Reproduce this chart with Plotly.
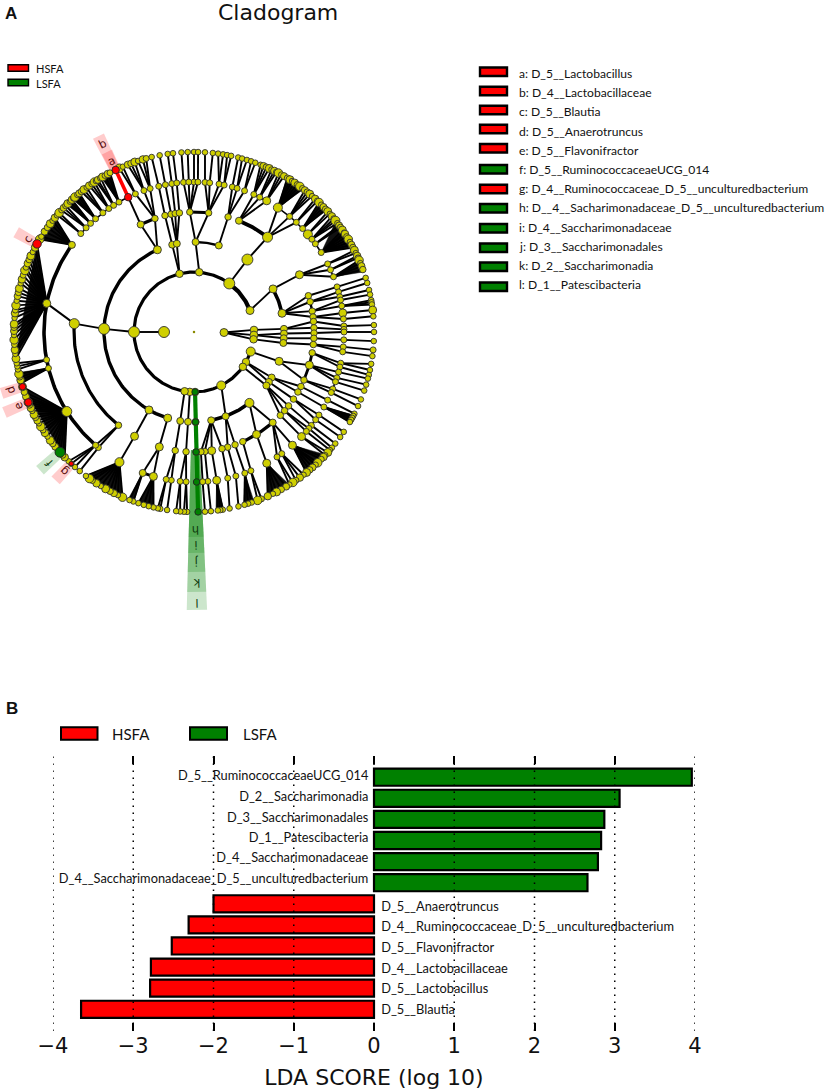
import numpy as np
import plotly.graph_objects as go

# ---------------- B panel data ----------------
bar_names = ["D_5__RuminococcaceaeUCG_014", "D_2__Saccharimonadia", "D_3__Saccharimonadales",
             "D_1__Patescibacteria", "D_4__Saccharimonadaceae", "D_4__Saccharimonadaceae_D_5__unculturedbacterium",
             "D_5__Anaerotruncus", "D_4__Ruminococcaceae_D_5__unculturedbacterium", "D_5__Flavonifractor",
             "D_4__Lactobacillaceae", "D_5__Lactobacillus", "D_5__Blautia"]
bar_scores = [3.96, 3.06, 2.87, 2.83, 2.79, 2.66, -2.0, -2.31, -2.52, -2.78, -2.79, -3.65]
bar_rows = list(range(12))
label_rows = [0, 0.97, 1.95, 2.92, 3.89, 4.87, 6.18, 7.16, 8.14, 9.11, 10.09, 11.07]
x_ticks = [-4, -3, -2, -1, 0, 1, 2, 3, 4]
x_tick_text = ["\u22124", "\u22123", "\u22122", "\u22121", "0", "1", "2", "3", "4"]

# ---------------- A panel key ----------------
key_text = ["a: D_5__Lactobacillus", "b: D_4__Lactobacillaceae", "c: D_5__Blautia", "d: D_5__Anaerotruncus",
            "e: D_5__Flavonifractor", "f: D_5__RuminococcaceaeUCG_014",
            "g: D_4__Ruminococcaceae_D_5__unculturedbacterium",
            "h: D__4__Sacharimonadaceae_D_5__unculturedbacterium", "i: D_4__Saccharimonadaceae",
            "j: D_3__Saccharimonadales", "k: D_2__Saccharimonadia", "l: D_1__Patescibacteria"]
key_group = ["H", "H", "H", "H", "H", "L", "H", "L", "L", "L", "L", "L"]

# ---------------- cladogram: angle in degrees clockwise from top, ring level 1..6 ----------------
parent_1 = [270, 91]
child_2 = [[346, 5, 36, 69, 270, 189, 184, 179, 153, 125.5, 120, 109], [88, 93, 97]]

parent_2 = [346, 5, 36, 69, 270, 189, 184, 179, 153, 125.5, 120, 109, 88, 93, 97]
child_3 = [[346, 349], [1, 16], [36.4], [61.4, 78], [336, 272, 210, 197], [188.8], [183.8], [179],
           [142, 159.4, 169], [126.5], [120.4, 123.7], [109], [88], [91, 94], [97]]

parent_3 = [346, 349, 1, 16, 36.4, 61.4, 78, 336, 272, 210, 197, 188.8, 183.8, 179, 142, 159.4, 169,
            126.5, 123.7, 120.4, 109, 88, 91, 94, 97]
child_4 = [[346], [349, 351, 353], [358, 7], [16.5], [37.8, 22], [61.5], [72.4, 75.4, 80, 82.8],
           [333.6, 341], [274, 219], [209.7], [196.8], [189], [183.8], [179], [139, 148.6, 156],
           [160, 163.7], [166.5, 171.5, 174.8, 176.7], [128, 131, 134], [124], [120, 117],
           [113.6, 106, 100], [85, 88], [90.5], [93], [96]]

parent_4 = [346, 349, 351, 353, 358, 7, 16.5, 22, 37.8, 61.5, 72.4, 75.4, 80, 82.8, 85, 88, 90.5, 93, 96,
            100, 106, 113.6, 117, 120, 124, 128, 131, 134, 139, 148.6, 156, 160, 163.7, 166.5, 171.5,
            174.8, 176.7, 179, 183.8, 189, 196.8, 209.7, 219, 274, 333.6, 341]
child_5 = [[346.4], [349], [351.5], [353.4], [356, 358, 0, 1.5], [4.2, 6, 9.6, 11.6], [14.8, 16.7, 19.7],
           [23.5, 26, 29], [34, 39.6, 43, 46.4, 49.4, 51.8, 54, 58], [63, 65.5, 68.4], [72.5], [74.5, 76.4],
           [77.7, 80], [82.7, 85], [87.7], [89], [90], [93], [95.7, 97.6], [102, 103.5], [105.5, 107.8, 109.4],
           [112.3, 113.8], [117], [120], [123.6, 125.8], [128.5], [130, 131.5], [134.2], [139, 144.2, 146.4],
           [151], [157.7], [160.2], [163.8], [167], [171.3], [174.7], [176.7], [179], [185.3, 183],
           [190.7, 188.7], [200, 195.7], [209.8], [219.6, 221], [305.5, 281, 259.3, 256, 238], [334],
           [337, 340.5, 343]]

parent_5 = [346.4, 349, 351.5, 353.4, 356, 358, 0, 1.5, 4.2, 6, 9.6, 11.6, 14.8, 16.7, 19.7, 23.5, 26, 29, 34,
            39.6, 43, 46.4, 49.4, 51.8, 54, 58, 63, 65.5, 68.4, 72.5, 74.5, 76.4, 77.7, 80, 82.7, 85, 87.7,
            90, 93, 95.7, 97.6, 102, 103.5, 105.5, 107.8, 109.4, 112.3, 113.8, 117, 120, 123.6, 125.8, 128.5,
            130, 131.5, 134.2, 139, 144.2, 146.4, 151, 157.7, 160.2, 163.8, 167, 171.3, 174.7, 176.7,
            185.3, 183, 188.7, 190.7, 195.7, 200, 209.8, 219.6, 221, 238, 256, 259.3, 281, 305.5,
            311, 314, 316.4, 319, 322.6, 325.4, 327.6, 330, 337, 340.5, 343]
child_6 = [[346.4], [349], [351.6], [353.3], [356], [358], [0], [1.3], [3.5], [6], [7.7, 9.3], [10.6, 11.9],
           [14.2], [15.5, 17.1], [18.5, 19.9], [21.7, 22.7, 23.7, 24.7], [25.5, 26.5, 27.3], [28, 29, 30],
           [31.3, 32.2, 33, 34, 35, 36, 37], [38, 39, 40, 41], [42.3, 43.3], [44, 45, 46, 47], [48, 49],
           [50, 51, 51.8, 52.8], [53.7, 54.5], [55.5, 56.5, 57, 58, 59, 60, 61, 62], [63, 64], [65, 65.7],
           [66.5, 67.5, 68.5, 69.7], [72.5], [74.2], [76.5], [78], [79.8, 80.5, 81.2], [83], [85], [87.8],
           [90], [92.9], [95.7], [97.7], [100.2, 102.2], [103.8], [105], [107], [109], [112], [114.3], [117],
           [117.8, 118.5, 119.2, 120], [123.7], [125.7], [128.3], [130], [131], [132, 133.2],
           [134, 135, 136.6, 137.5, 138.8, 140, 141.3], [142.5, 144, 145.5], [146.7, 148],
           [149.2, 151, 152.7, 154, 155.8], [158, 159.3], [161.3, 162.5, 163.7], [165.7], [168.6],
           [170.8, 171.6, 172.4], [174.6], [176.5], [184.4, 185.7], [182.2, 183.2], [188.6], [190.8, 191.6],
           [193, 194.6, 196.2, 198], [199.7, 201],
           [203.4, 205, 206.4, 207.8, 209.4, 211.2, 212.8, 214.4, 215.5, 216.9], [219.4], [221.4, 223, 224.1],
           [225.9, 226.8, 228.1, 229.3, 230.4, 231.7, 233, 234.5, 235.9, 237, 238.3, 239.5, 240.5, 241.7, 242.7,
            244, 245, 246, 247, 248, 249, 250.5, 252.3],
           [253.5, 254.5, 255.5, 256.5], [258, 259, 260],
           [261.5, 263, 264.3, 266, 267.5, 269, 270.3, 271.5, 272.5, 274.5, 276, 277, 278.5, 280, 281.5, 282.7,
            284, 285.7, 287, 288.4, 290, 291, 292.4, 293.7, 295, 296.4, 298, 299.3],
           [301, 302, 303.9, 305.5, 307, 308.2, 309.4], [310.5, 311.5], [312.6, 313.6, 314.6],
           [315.5, 316.4, 317.3], [318, 318.6, 319.6, 320.4], [321.3, 322.3, 323.4], [324.4, 325.4, 326.4],
           [327, 327.7, 328.8], [329.5, 330.3, 331.4, 332.2], [335.5, 336.7], [338.4, 339.5, 340.8],
           [341.9, 343.5, 344.6]]

wedge_level = [5] * 19
wedge_parent = [34, 46.4, 58, 68.4, 120, 139, 151, 160.2, 195.7, 200, 209.8, 238, 256, 281, 305.5,
                316.4, 319, 330, 171.3]
wedge_start = [31, 44, 52, 66.5, 117.5, 133, 148, 160.5, 193, 199.5, 203.5, 226, 253.5, 262, 301,
               315, 317.5, 329, 170.5]
wedge_end = [37.5, 47.5, 62, 70.5, 120.3, 141.5, 156, 164, 198, 201.5, 217, 252, 257, 299, 309.4,
             317.5, 320.5, 332, 173]

arc_level = [2, 2, 3, 3, 3, 3, 3, 3, 3, 3, 4, 4, 4, 4, 4, 4, 4, 4, 5, 5, 5, 5, 5, 5, 5, 5, 5, 5]
arc_start = [109, 396, 197, 346, 1, 61.4, 142, 120.4, 88, 91, 219, 333.6, 22, 72.4, 358, 85, 100, 139,
             221, 311, 195.7, 23.5, 34, 63, 72.5, 102, 123.6, 144.2]
arc_end = [396, 429, 336, 349, 16, 78, 169, 123.7, 97, 94, 274, 341, 37.8, 82.8, 367, 96, 113.6, 156,
           305.5, 334, 200, 29, 58, 68.4, 85, 113.8, 134.2, 146.4]
arc_width = [3.2, 4.2, 3.4, 2, 2.4, 3.6, 3.6, 2, 2.6, 2.4, 3.2, 3.2, 3.8, 2.4, 3, 2.2, 2.8, 3.4,
             3.6, 1.6, 2.8, 2, 1.6, 1.6, 1.6, 1.6, 1.6, 2]

big_level = [1, 1, 2, 2, 2, 2, 2, 2, 3, 3, 3, 3, 3, 3, 3, 3, 3, 3, 4, 4, 4, 4, 4, 4, 4, 4, 4, 4, 4,
             5, 5, 5, 5, 5, 5, 5, 5, 5, 5, 5, 5, 5, 5, 6, 6, 6]
big_theta = [270, 91, 270, 36, 153, 69, 109, 93, 272, 336, 210, 197, 36.4, 61.4, 78, 109, 142, 159.4,
             274, 37.8, 209.7, 196.8, 22, 61.5, 106, 148.6, 139, 171.5, 333.6,
             305.5, 281, 238, 34, 209.8, 200, 195.7, 29, 171.3, 151, 139, 134.2, 49.4, 82.7, 51.8, 83, 95.7]
big_size = [11, 8, 11, 11, 9, 8, 9, 8, 11, 8, 8, 8, 11, 8, 8, 8, 9, 7,
            10, 10, 8, 8, 7, 8, 8, 8, 7, 8, 7,
            7, 8, 10, 9, 9, 7, 8, 8, 8, 8, 8, 8, 9, 8, 9, 8, 6]

# rim sectors where the tips crowd together, and the run of tip sizes seen there
dense_from = [21, 132, 203, 225, 261, 301]
dense_to = [70, 160, 217, 257, 300, 345]
dense_sizes = [5.5, 7.5, 6, 8.5, 5.5, 7, 6.5, 8]

mark_letter = ["a", "b", "c", "d", "e", "f", "g", "h", "i", "j", "k", "l"]
mark_level = [6, 5, 6, 6, 6, 6, 6, 6, 5, 4, 3, 2]
mark_theta = [334.2, 334, 299.3, 252.3, 247, 228.1, 223, 178.7, 179, 179, 179, 179]
mark_size = [7.5, 7.5, 8.5, 6.5, 7.5, 10, 4.5, 6.5, 6.5, 6.5, 6.5, 6.5]
mark_colour = ["#ff0000"] * 5 + ["#008000"] + ["#ff0000"] + ["#008000"] * 5
label_radius = [190, 209, 191, 192, 191, 195, 191, 198, 213, 230, 251, 271]
band_start = [183, 183, 183, 183, 183, 183, 183, 118, 118, 118, 118, 118]
band_end = [200, 218, 204, 202, 206, 207, 203, 205, 221, 240, 260, 278]
band_half = [1.6, 1.6, 1.6, 1.6, 1.6, 1.6, 1.6, 2.1, 2.1, 2.1, 2.1, 2.1]

RING = 30.0
W, H = 829, 1092
CX, CY = 194, 332
TOP_H = 650
YEL = "#cfcf00"


def px(r, t):
    t = np.radians(t)
    return r * np.sin(t), r * np.cos(t)


def paper_x(p):
    return p / W


def paper_y(p):
    return 1 - p / H


def near(a, b, lim=8):
    d = abs(a - b) % 360
    return min(d, 360 - d) <= lim


def node_size(key, order):
    if key in big:
        return big[key]
    if key[0] == 6:
        for a, b in zip(dense_from, dense_to):
            if a <= key[1] <= b:
                return dense_sizes[order % len(dense_sizes)]
    return sizes_default[key[0]]


# -------- collect nodes and edges from the clade lists --------
sizes_default = {1: 10, 2: 7.5, 3: 7, 4: 6.5, 5: 6, 6: 5.6}
big = {(l, t): s for l, t, s in zip(big_level, big_theta, big_size)}
nodes = {}
ex, ey = [], []
groups = [(1, parent_1, child_2), (2, parent_2, child_3), (3, parent_3, child_4),
          (4, parent_4, child_5), (5, parent_5, child_6)]
for lvl, parents, children in groups:
    for pt, kids in zip(parents, children):
        nodes[(lvl, pt)] = True
        x0, y0 = px(lvl * RING, pt)
        for ct in kids:
            nodes[(lvl + 1, ct)] = True
            x1, y1 = px((lvl + 1) * RING, ct)
            if lvl == 5 or near(pt, ct):      # the others hang on a ring arc
                ex += [x0, x1, None]
                ey += [y0, y1, None]

fig = go.Figure()

# highlight bands
for i in range(12):
    t0, t1 = mark_theta[i] - band_half[i], mark_theta[i] + band_half[i]
    if i >= 7:
        t0, t1 = 179.4 - band_half[i], 179.4 + band_half[i]
    xa, ya = px(band_start[i], t0)
    xb, yb = px(band_end[i], t0)
    xc, yc = px(band_end[i], t1)
    xd, yd = px(band_start[i], t1)
    col = "rgba(255,0,0,0.2)" if key_group[i] == "H" else "rgba(0,128,0,0.2)"
    fig.add_trace(go.Scatter(x=[xa, xb, xc, xd, xa], y=[ya, yb, yc, yd, ya], mode="lines", fill="toself",
                             fillcolor=col, line=dict(width=0), xaxis="x2", yaxis="y2", hoverinfo="skip"))

# black fans
wx, wy = [], []
for lv, pt, a, b in zip(wedge_level, wedge_parent, wedge_start, wedge_end):
    x0, y0 = px(lv * RING, pt)
    x1, y1 = px(6 * RING, a)
    x2, y2 = px(6 * RING, b)
    wx += [x0, x1, x2, x0, None]
    wy += [y0, y1, y2, y0, None]
fig.add_trace(go.Scatter(x=wx, y=wy, mode="lines", fill="toself", fillcolor="#111111",
                         line=dict(width=0.5, color="#111111"), xaxis="x2", yaxis="y2", hoverinfo="skip"))

# straight branches
fig.add_trace(go.Scatter(x=ex, y=ey, mode="lines", line=dict(color="black", width=1.9),
                         xaxis="x2", yaxis="y2", hoverinfo="skip"))

# ring arcs
for lv, a, b, w in zip(arc_level, arc_start, arc_end, arc_width):
    tt = np.append(np.arange(a, b, 1.0), b)
    xa, ya = px(lv * RING, tt)
    fig.add_trace(go.Scatter(x=xa, y=ya, mode="lines", line=dict(color="black", width=w),
                             xaxis="x2", yaxis="y2", hoverinfo="skip"))

# coloured branches
xa, ya = px(np.array([60.0, 180.0]), np.array([179, 178.7]))
fig.add_trace(go.Scatter(x=xa, y=ya, mode="lines", line=dict(color="#008000", width=4.2),
                         xaxis="x2", yaxis="y2", hoverinfo="skip"))
xa, ya = px(np.array([150.0, 180.0]), np.array([334, 334.2]))
fig.add_trace(go.Scatter(x=xa, y=ya, mode="lines", line=dict(color="#ff0000", width=3.6),
                         xaxis="x2", yaxis="y2", hoverinfo="skip"))

# yellow nodes
keys = sorted(nodes.keys())
nx, ny = px(np.array([k[0] * RING for k in keys]), np.array([k[1] for k in keys]))
ns = [node_size(k, i) for i, k in enumerate(keys)]
fig.add_trace(go.Scatter(x=nx, y=ny, mode="markers",
                         marker=dict(color=YEL, size=ns, opacity=1, line=dict(color="#303030", width=0.9)),
                         xaxis="x2", yaxis="y2", hoverinfo="skip"))
fig.add_trace(go.Scatter(x=[0], y=[0], mode="markers", marker=dict(color="#8a8a00", size=2.5),
                         xaxis="x2", yaxis="y2", hoverinfo="skip"))

# coloured nodes
mx, my = px(np.array(mark_level) * RING, np.array(mark_theta))
fig.add_trace(go.Scatter(x=mx, y=my, mode="markers",
                         marker=dict(color=mark_colour, size=mark_size, opacity=1,
                                     line=dict(color="#222222", width=0.9)),
                         xaxis="x2", yaxis="y2", hoverinfo="skip"))

annotations = []
for i, letter in enumerate(mark_letter):
    lx, ly = px(label_radius[i], mark_theta[i] if i < 7 else 179.4)
    annotations.append(dict(x=lx, y=ly, xref="x2", yref="y2", text=letter, showarrow=False,
                            textangle=mark_theta[i], xanchor="center", yanchor="middle",
                            font=dict(family="DejaVu Sans", size=11.5,
                                      color="#5a0c0c" if key_group[i] == "H" else "#0c3a0c")))

# bars
for grp_col, test in (("#008000", lambda v: v > 0), ("#ff0000", lambda v: v < 0)):
    rows = [r for r, v in zip(bar_rows, bar_scores) if test(v)]
    vals = [v for v in bar_scores if test(v)]
    fig.add_trace(go.Bar(x=vals, y=rows, orientation="h", width=0.81, marker=dict(color=grp_col,
                         line=dict(color="black", width=2.2)), hoverinfo="skip", xaxis="x", yaxis="y"))

# bar labels
lab_x = [-0.07 if v > 0 else 0.09 for v in bar_scores]
pos = ["middle left" if v > 0 else "middle right" for v in bar_scores]
fig.add_trace(go.Scatter(x=lab_x, y=label_rows, mode="text", text=bar_names, textposition=pos,
                         textfont=dict(family="Lato", size=12.8, color="#111111"), hoverinfo="skip",
                         cliponaxis=False, xaxis="x", yaxis="y"))

shapes = []
for t in x_ticks:
    shapes.append(dict(type="line", xref="x", yref="y domain", x0=t, x1=t, y0=0, y1=1, layer="above",
                       line=dict(color="black", width=1.5, dash="1.5px,5.5px")))


def swatch(x0, x1, yc, h, col, lw):
    shapes.append(dict(type="rect", xref="paper", yref="paper", x0=paper_x(x0), x1=paper_x(x1),
                       y0=paper_y(yc + h / 2), y1=paper_y(yc - h / 2), fillcolor=col,
                       line=dict(color="black", width=lw), layer="above"))


def atext(x, y, s, size, family="Lato", anchor="left", bold=False, col="#111111"):
    # text placed through the full-width cladogram axes so it never pushes the margins
    annotations.append(dict(x=x - CX, y=CY - y, xref="x2", yref="y2", text=f"<b>{s}</b>" if bold else s,
                            showarrow=False, xanchor=anchor, yanchor="middle",
                            font=dict(family=family, size=size, color=col)))


def btext(x, y, s, size, family="Lato", anchor="left", bold=False, col="#111111"):
    annotations.append(dict(x=paper_x(x), y=paper_y(y), xref="paper", yref="paper", text=f"<b>{s}</b>" if bold else s,
                            showarrow=False, xanchor=anchor, yanchor="middle",
                            font=dict(family=family, size=size, color=col)))


GROUP_COL = {"H": "#ff0000", "L": "#008000"}
swatch_rows = [71.7, 91, 110, 129, 148.3, 169.3, 189, 208.3, 228.3, 247.7, 266.7, 286.7]
text_rows = [73.3, 92.3, 111.7, 131, 150, 169.3, 188.3, 207.3, 227, 246, 265.3, 284.3]
for sy, ty, s, g in zip(swatch_rows, text_rows, key_text, key_group):
    swatch(480, 507, sy, 8.5, GROUP_COL[g], 2.4)
    atext(517, ty, s, 12.1)

swatch(8, 28.5, 68, 6.5, GROUP_COL["H"], 1.4)
swatch(8, 28.5, 82.5, 6.5, GROUP_COL["L"], 1.4)
atext(34, 68.5, "HSFA", 11)
atext(34, 83, "LSFA", 11)
swatch(61, 97.5, 733.5, 12.5, GROUP_COL["H"], 2)
swatch(190, 227, 733.5, 12.5, GROUP_COL["L"], 2)
btext(110, 734, "HSFA", 15)
btext(241, 734, "LSFA", 15)
atext(3, 13, "A", 17, "Liberation Sans", bold=True)
btext(4, 708, "B", 17, "Liberation Sans", bold=True)
atext(277.5, 12, "Cladogram", 22, "DejaVu Sans", anchor="center")

fig.update_layout(
    width=W, height=H, margin=dict(l=0, r=0, t=0, b=0, pad=0, autoexpand=False), showlegend=False,
    plot_bgcolor="rgba(0,0,0,0)", paper_bgcolor="white", barmode="overlay",
    shapes=shapes, annotations=annotations,
    xaxis=dict(domain=[53 / W, 695 / W], range=[-4, 4], tickvals=x_ticks, ticktext=x_tick_text,
               ticks="inside", ticklen=8, tickwidth=1.5, tickcolor="black", showgrid=False, zeroline=False,
               showline=False, mirror="ticks", automargin=False,
               tickfont=dict(family="DejaVu Sans", size=21, color="#111111"),
               title=dict(text="LDA SCORE (log 10)", font=dict(family="DejaVu Sans", size=22, color="#111111"),
                          standoff=12),
               anchor="y"),
    yaxis=dict(domain=[1 - 1031 / H, 1 - 756 / H], range=[12.03, -1.005], visible=False, anchor="x"),
    xaxis2=dict(domain=[0, 1], range=[-CX, W - CX], visible=False, anchor="y2"),
    yaxis2=dict(domain=[1 - TOP_H / H, 1], range=[CY - TOP_H, CY], visible=False, anchor="x2"),
)
fig.write_html("out.html", post_script="document.body.style.margin='0';",
               config={"displayModeBar": False})
